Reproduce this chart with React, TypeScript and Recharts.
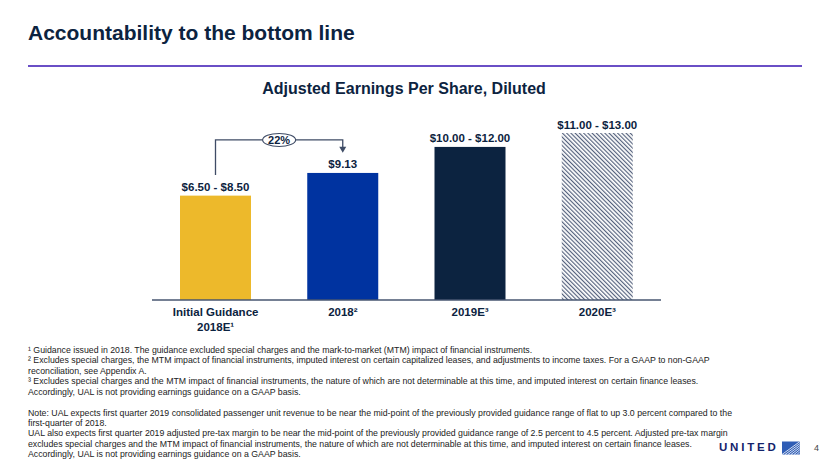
import React from "react";
import { BarChart, Bar, XAxis, YAxis } from "recharts";

// chart data
const categories = ["Initial Guidance 2018E", "2018", "2019E", "2020E"];
const tickLines = [["Initial Guidance", "2018E¹"], ["2018²"], ["2019E³"], ["2020E³"]];
const epsMidpoints = [7.5, 9.13, 11, 12];
const epsLabels = ["$6.50 - $8.50", "$9.13", "$10.00 - $12.00", "$11.00 - $13.00"];
const barFills = ["#EDB92B", "#0033A0", "#0C2340", "url(#epsHatch)"];

// growth bracket from initial guidance to 2018 actual (in EPS units)
const growthLabel = "22%";
const bracketFrom = 8.98;
const bracketTop = 11.5;
const bracketTo = 10.58;

const footnotes = [
  "¹ Guidance issued in 2018. The guidance excluded special charges and the mark-to-market (MTM) impact of financial instruments.",
  "² Excludes special charges, the MTM impact of financial instruments, imputed interest on certain capitalized leases, and adjustments to income taxes. For a GAAP to non-GAAP",
  "reconciliation, see Appendix A.",
  "³ Excludes special charges and the MTM impact of financial instruments, the nature of which are not determinable at this time, and imputed interest on certain finance leases.",
  "Accordingly, UAL is not providing earnings guidance on a GAAP basis.",
];
const notes = [
  "Note: UAL expects first quarter 2019 consolidated passenger unit revenue to be near the mid-point of the previously provided guidance range of flat to up 3.0 percent compared to the",
  "first-quarter of 2018.",
  "UAL also expects first quarter 2019 adjusted pre-tax margin to be near the mid-point of the previously provided guidance range of 2.5 percent to 4.5 percent. Adjusted pre-tax margin",
  "excludes special charges and the MTM impact of financial instruments, the nature of which are not determinable at this time, and imputed interest on certain finance leases.",
  "Accordingly, UAL is not providing earnings guidance on a GAAP basis.",
];

const data = categories.map((category, i) => ({
  category,
  eps: epsMidpoints[i],
  label: epsLabels[i],
}));

const W = 830;
const H = 467;
const MARGIN = { top: 133, right: 169, bottom: 127, left: 152 };
const FONT = "'Liberation Sans', Arial, Helvetica, sans-serif";
const NAVY = "#0C2340";
const LINE = "#3F4C66";

function AxisTick(props: any) {
  const { x, y, payload } = props;
  const idx = categories.indexOf(payload.value);
  const lines = tickLines[idx] || [payload.value];
  return (
    <text
      x={x}
      y={y}
      textAnchor="middle"
      fontFamily={FONT}
      fontWeight="bold"
      fontSize={11.5}
      fill={NAVY}
    >
      {lines.map((line, i) => (
        <tspan key={i} x={x} dy={i === 0 ? 16 : 15}>
          {line}
        </tspan>
      ))}
    </text>
  );
}

function EpsBar(props: any) {
  const { x, y, width, height, index } = props;
  const cx = x + width / 2;
  let bracket = null;
  if (index === 1) {
    // bracket from previous bar, positioned with this bar's scale
    const perUnit = height / epsMidpoints[1];
    const base = y + height;
    const toY = (v: number) => base - v * perUnit;
    const band = (W - MARGIN.left - MARGIN.right) / categories.length;
    const x0 = cx - band;
    const yFrom = toY(bracketFrom);
    const yTop = toY(bracketTop);
    const yTo = toY(bracketTo);
    const mid = (x0 + cx) / 2;
    bracket = (
      <g>
        <polyline
          points={`${x0},${yFrom} ${x0},${yTop} ${cx},${yTop} ${cx},${yTo - 5}`}
          fill="none"
          stroke={LINE}
          strokeWidth={1.3}
        />
        <polygon
          points={`${cx - 3.5},${yTo - 6} ${cx + 3.5},${yTo - 6} ${cx},${yTo}`}
          fill={LINE}
        />
        <ellipse cx={mid} cy={yTop} rx={16.5} ry={6.5} fill="#fff" stroke={LINE} strokeWidth={1.1} />
        <text
          x={mid}
          y={yTop + 4}
          textAnchor="middle"
          fontFamily={FONT}
          fontWeight="bold"
          fontSize={11}
          fill={NAVY}
        >
          {growthLabel}
        </text>
      </g>
    );
  }
  return (
    <g>
      <rect x={x} y={y} width={width} height={height} fill={barFills[index]} />
      <text
        x={cx}
        y={y - 4.5}
        textAnchor="middle"
        fontFamily={FONT}
        fontWeight="bold"
        fontSize={11.5}
        fill={NAVY}
      >
        {epsLabels[index]}
      </text>
      {bracket}
    </g>
  );
}

export default function App() {
  return (
    <div
      style={{
        position: "absolute",
        left: 0,
        top: 0,
        width: W,
        height: H,
        overflow: "hidden",
        background: "#fff",
      }}
    >
      <svg width={0} height={0} style={{ position: "absolute" }}>
        <defs>
          <pattern
            id="epsHatch"
            patternUnits="userSpaceOnUse"
            width={3}
            height={3}
            patternTransform="rotate(-45)"
          >
            <rect width={3} height={3} fill="#fff" />
            <line x1={0.6} y1={0} x2={0.6} y2={3} stroke="#4A5876" strokeWidth={1.1} />
          </pattern>
        </defs>
      </svg>

      <div style={{ position: "absolute", left: 0, top: 0 }}>
        <BarChart width={W} height={H} data={data} margin={MARGIN} barSize={71}>
          <YAxis hide domain={[0, 12]} />
          <XAxis
            dataKey="category"
            height={40}
            interval={0}
            tickLine={false}
            tickSize={0}
            tickMargin={0}
            axisLine={{ stroke: "#475670", strokeWidth: 1.3 }}
            tick={<AxisTick />}
          />
          <Bar dataKey="eps" shape={<EpsBar />} isAnimationActive={false} />
        </BarChart>
      </div>

      <svg
        width={W}
        height={H}
        style={{ position: "absolute", left: 0, top: 0, pointerEvents: "none" }}
      >
        <text x={28} y={40} fontFamily={FONT} fontWeight="bold" fontSize={21} fill={NAVY}>
          Accountability to the bottom line
        </text>
        <line x1={28} y1={66} x2={802} y2={66} stroke="#6A4FC6" strokeWidth={2.2} />
        <text
          x={404}
          y={93.5}
          textAnchor="middle"
          fontFamily={FONT}
          fontWeight="bold"
          fontSize={16}
          fill={NAVY}
        >
          Adjusted Earnings Per Share, Diluted
        </text>

        <g fontFamily={FONT} fontSize={8.75} fill="#222">
          {footnotes.map((t, i) => (
            <text key={"f" + i} x={28} y={353 + i * 10.4}>
              {t}
            </text>
          ))}
          {notes.map((t, i) => (
            <text key={"n" + i} x={28} y={415.8 + i * 10.3}>
              {t}
            </text>
          ))}
        </g>

        <text
          x={719}
          y={451}
          fontFamily={FONT}
          fontWeight="bold"
          fontSize={11.5}
          letterSpacing={2.8}
          fill="#13236B"
        >
          UNITED
        </text>
        <g>
          <rect x={782} y={441.5} width={18} height={13} fill="#2F5DB5" />
          {[0, 1, 2, 3, 4, 5, 6].map((i) => (
            <line
              key={i}
              x1={782 + i * 3}
              y1={454.5}
              x2={800}
              y2={441.5 + i * 2}
              stroke="#fff"
              strokeWidth={0.8}
            />
          ))}
        </g>
        <text x={814} y={451} fontFamily={FONT} fontSize={9} fill="#444">
          4
        </text>
      </svg>
    </div>
  );
}
